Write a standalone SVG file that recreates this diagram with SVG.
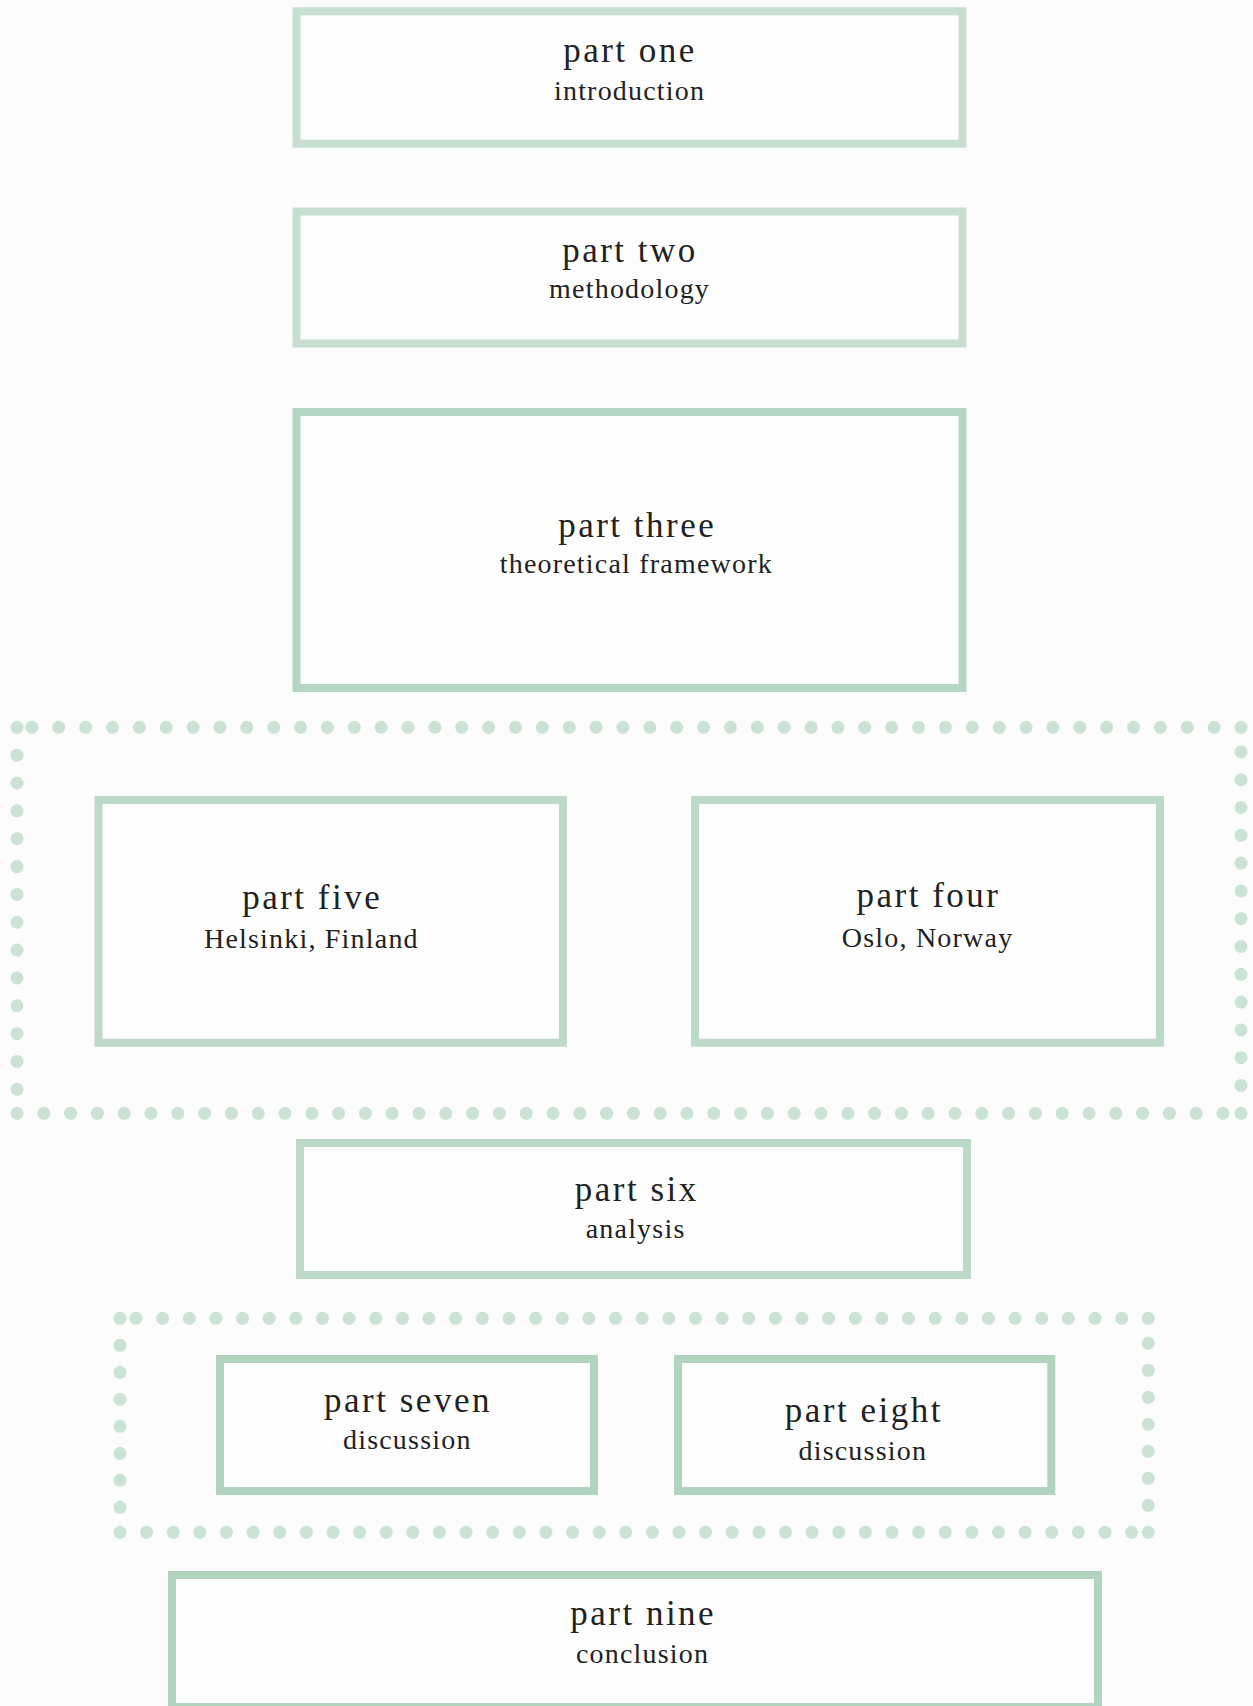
<svg xmlns="http://www.w3.org/2000/svg" width="1253" height="1706" viewBox="0 0 1253 1706">
<style>
.box{fill:#fdfdfd;stroke-width:8}
.light{stroke:#c6dfd1}
.mid{stroke:#b5d6c2}
.soft{stroke:#bdd9c8}
.deep{stroke:#b2d4bf}
.t1{font-family:"Liberation Serif","Times New Roman",serif;font-size:35px;letter-spacing:2.5px;fill:#222;text-anchor:middle}
.t2{font-family:"Liberation Serif","Times New Roman",serif;font-size:28px;letter-spacing:1.2px;fill:#222;text-anchor:middle}
.dots{fill:none;stroke:#cae3d5;stroke-width:13;stroke-linecap:round}
</style>
<rect width="1253" height="1706" fill="#fcfcfc"/>
<g id="connectors">
<g id="group-cities">
<path class="dots" d="M1241 727.3 H16.5" stroke-dasharray="0 26.87"/>
<path class="dots" d="M17 727.3 V1113.3" stroke-dasharray="0 27.85"/>
<path class="dots" d="M17 1113.3 H1241" stroke-dasharray="0 26.8"/>
<path class="dots" d="M1241 1113.3 V727.3" stroke-dasharray="0 27.8"/>
</g>
<g id="group-discussion">
<path class="dots" d="M1148.3 1318.3 H119.5" stroke-dasharray="0 26.64"/>
<path class="dots" d="M120 1318.3 V1532.3" stroke-dasharray="0 27"/>
<path class="dots" d="M120 1532.3 H1148.3" stroke-dasharray="0 26.62"/>
<path class="dots" d="M1148.3 1532.3 V1318.3" stroke-dasharray="0 27"/>
</g>
</g>
<g id="part-one">
<rect class="box light" x="296.5" y="11.3" width="666" height="132.4"/>
<text class="t1" x="630" y="62.3">part one</text>
<text class="t2" x="629.6" y="100">introduction</text>
</g>
<g id="part-two">
<rect class="box light" x="296.5" y="211.5" width="666" height="132"/>
<text class="t1" x="630" y="261.7">part two</text>
<text class="t2" x="629.6" y="298">methodology</text>
</g>
<g id="part-three">
<rect class="box mid" x="296.5" y="412" width="666" height="276"/>
<text class="t1" x="637.2" y="536.7">part three</text>
<text class="t2" x="636.3" y="572.7">theoretical framework</text>
</g>
<g id="part-five">
<rect class="box soft" x="98.5" y="800" width="464.5" height="242.7"/>
<text class="t1" x="312.2" y="909">part five</text>
<text class="t2" x="311.4" y="948.3">Helsinki, Finland</text>
</g>
<g id="part-four">
<rect class="box soft" x="695" y="800" width="465" height="242.7"/>
<text class="t1" x="928.5" y="907.3">part four</text>
<text class="t2" x="927.6" y="947.3">Oslo, Norway</text>
</g>
<g id="part-six">
<rect class="box soft" x="300" y="1143" width="667" height="132"/>
<text class="t1" x="636.8" y="1201">part six</text>
<text class="t2" x="635.6" y="1238.3">analysis</text>
</g>
<g id="part-seven">
<rect class="box deep" x="220" y="1359" width="374" height="132"/>
<text class="t1" x="408" y="1411.7">part seven</text>
<text class="t2" x="407.3" y="1449">discussion</text>
</g>
<g id="part-eight">
<rect class="box deep" x="678" y="1359" width="373.3" height="132"/>
<text class="t1" x="863.8" y="1421.7">part eight</text>
<text class="t2" x="862.8" y="1460">discussion</text>
</g>
<g id="part-nine">
<rect class="box deep" x="172" y="1575" width="926" height="132"/>
<text class="t1" x="643.2" y="1625">part nine</text>
<text class="t2" x="642.6" y="1663.3">conclusion</text>
</g>
</svg>
